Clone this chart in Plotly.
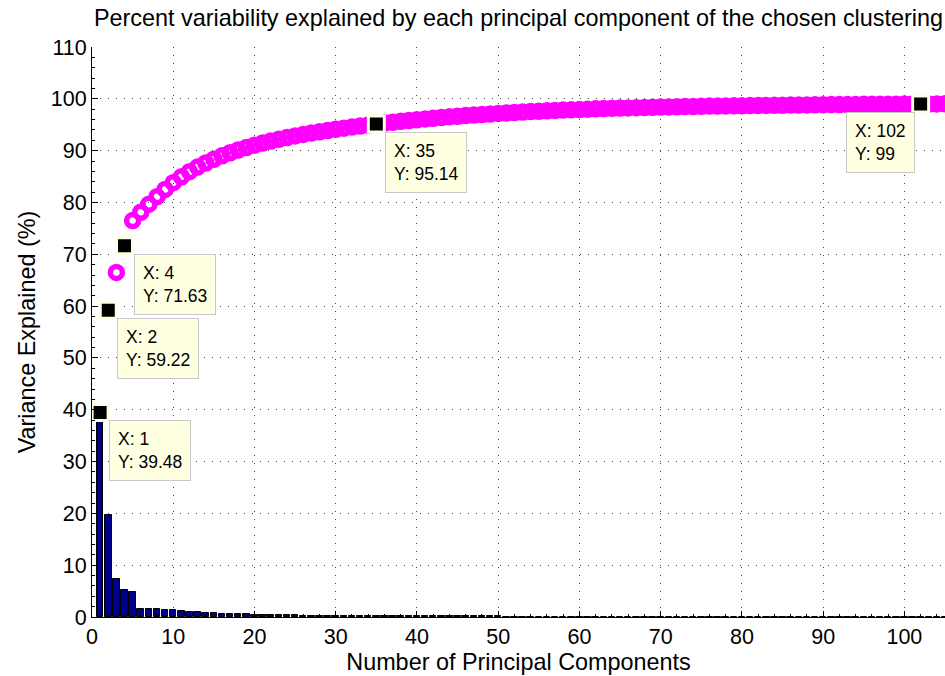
import plotly.graph_objects as go

components = list(range(1, 106))

variance = [
    39.48, 19.74, 7.28, 5.13, 4.87, 1.62, 1.55, 1.45, 1.40, 1.30,
    1.12, 1.00, 0.88, 0.80, 0.72, 0.65, 0.59, 0.54, 0.49, 0.45,
    0.41, 0.38, 0.35, 0.33, 0.31, 0.29, 0.27, 0.25, 0.24, 0.23,
    0.22, 0.21, 0.20, 0.20, 0.19, 0.18, 0.17, 0.17, 0.16, 0.15,
    0.15, 0.14, 0.13, 0.13, 0.12, 0.12, 0.11, 0.11, 0.10, 0.10,
    0.09, 0.09, 0.09, 0.08, 0.08, 0.08, 0.07, 0.07, 0.06, 0.06,
    0.06, 0.05, 0.05, 0.05, 0.05, 0.04, 0.04, 0.04, 0.04, 0.04,
    0.03, 0.03, 0.03, 0.03, 0.03, 0.03, 0.02, 0.02, 0.02, 0.02,
    0.02, 0.02, 0.02, 0.02, 0.02, 0.02, 0.02, 0.02, 0.02, 0.02,
    0.02, 0.01, 0.01, 0.01, 0.01, 0.01, 0.01, 0.01, 0.01, 0.01,
    0.01, 0.01, 0.01, 0.01, 0.01,
]

cumulative = [
    39.48, 59.22, 66.50, 71.63, 76.50, 78.12, 79.67, 81.12, 82.52, 83.82,
    84.94, 85.94, 86.82, 87.62, 88.34, 88.99, 89.58, 90.12, 90.61, 91.06,
    91.47, 91.85, 92.20, 92.53, 92.84, 93.13, 93.40, 93.65, 93.89, 94.12,
    94.34, 94.55, 94.75, 94.95, 95.14, 95.32, 95.49, 95.66, 95.82, 95.97,
    96.12, 96.26, 96.39, 96.52, 96.64, 96.76, 96.87, 96.98, 97.08, 97.18,
    97.27, 97.36, 97.45, 97.53, 97.61, 97.69, 97.76, 97.83, 97.89, 97.95,
    98.01, 98.06, 98.11, 98.16, 98.21, 98.25, 98.29, 98.33, 98.37, 98.41,
    98.44, 98.47, 98.50, 98.53, 98.56, 98.59, 98.61, 98.63, 98.65, 98.67,
    98.69, 98.71, 98.73, 98.75, 98.77, 98.79, 98.81, 98.83, 98.85, 98.87,
    98.89, 98.90, 98.91, 98.92, 98.93, 98.94, 98.95, 98.96, 98.97, 98.98,
    98.99, 99.00, 99.01, 99.02, 99.03,
]

tip_x = [1, 2, 4, 35, 102]
tip_y = [39.48, 59.22, 71.63, 95.14, 99]
tip_label_y = ["39.48", "59.22", "71.63", "95.14", "99"]
tip_side = ["right", "right", "right", "right", "left"]

x_ticks = [0, 10, 20, 30, 40, 50, 60, 70, 80, 90, 100]
y_ticks = [0, 10, 20, 30, 40, 50, 60, 70, 80, 90, 100, 110]

FONT = "Liberation Sans, Arial, Helvetica, sans-serif"

fig = go.Figure()

fig.add_trace(go.Bar(
    x=components, y=variance, width=0.8,
    marker=dict(color="#00008F", line=dict(color="black", width=1)),
    hoverinfo="skip",
))

fig.add_trace(go.Scatter(
    x=components, y=cumulative, mode="markers",
    marker=dict(symbol="circle-open", color="#FF00FF", size=12,
                line=dict(width=5.5, color="#FF00FF")),
    hoverinfo="skip", cliponaxis=True,
))

fig.add_trace(go.Scatter(
    x=tip_x, y=tip_y, mode="markers",
    marker=dict(symbol="square", color="black", size=16,
                line=dict(color="#FFFFE1", width=3)),
    hoverinfo="skip", cliponaxis=False,
))

for tx, ty, ly, side in zip(tip_x, tip_y, tip_label_y, tip_side):
    fig.add_annotation(
        x=tx, y=ty, xref="x", yref="y",
        text=f"X: {tx}<br>Y: {ly}",
        showarrow=False, align="left",
        xanchor="left" if side == "right" else "right",
        yanchor="top",
        xshift=9 if side == "right" else -6,
        yshift=-8,
        bgcolor="#FFFFE1", bordercolor="#C8C8C8", borderwidth=1, borderpad=8,
        font=dict(family=FONT, size=17.5, color="black"),
    )

axis_common = dict(
    showline=True, linecolor="black", linewidth=1,
    ticks="inside", ticklen=6, tickcolor="black",
    showgrid=True, gridcolor="#444444", gridwidth=1, griddash="1px,7px",
    zeroline=False, mirror=False,
    tickfont=dict(family=FONT, size=21.5, color="black"),
    minor=dict(ticks="inside", ticklen=3, tickcolor="black", showgrid=False, dtick=2),
)

fig.update_xaxes(
    range=[0, 105], tickmode="array", tickvals=x_ticks,
    title=dict(text="Number of Principal Components", standoff=3,
               font=dict(family=FONT, size=23.4, color="black")),
    **axis_common,
)
fig.update_yaxes(
    range=[0, 110], tickmode="array", tickvals=y_ticks,
    title=dict(text="Variance Explained (%)", standoff=8,
               font=dict(family=FONT, size=23.4, color="black")),
    **axis_common,
)

fig.update_layout(
    width=945, height=676,
    margin=dict(l=92, r=0, t=47, b=59),
    paper_bgcolor="white", plot_bgcolor="white",
    showlegend=False,
    title=dict(text="Percent variability explained by each principal component of the chosen clustering",
               x=0.5, xref="paper", xanchor="center",
               y=1 - 18 / 676, yref="container", yanchor="middle",
               font=dict(family=FONT, size=23.4, color="black")),
    bargap=0,
)

fig.write_html("out.html")
